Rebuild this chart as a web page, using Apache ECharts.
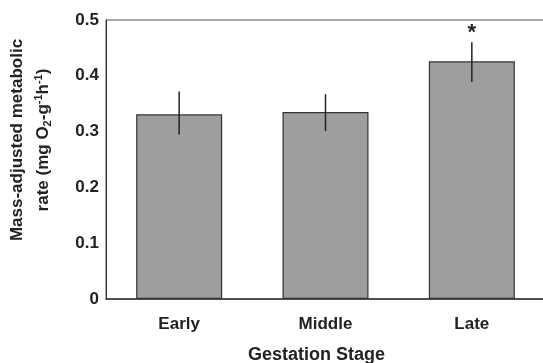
<!DOCTYPE html>
<html><head><meta charset="utf-8">
<script src="https://cdn.jsdelivr.net/npm/echarts@6/dist/echarts.min.js"></script>
<style>html,body{margin:0;padding:0;background:#fff}#c{width:543px;height:363px}</style>
</head><body><div id="c"></div>
<script>
const categories = ['Early', 'Middle', 'Late'];
const meanValues = [0.331, 0.335, 0.426];
const errLow = [0.295, 0.301, 0.389];
const errHigh = [0.372, 0.367, 0.460];
const markers = ['', '', '*'];
const yTicks = [0, 0.1, 0.2, 0.3, 0.4, 0.5];

const FONT = 'Liberation Sans, Arial, sans-serif';
const FS = 17;
const chart = echarts.init(document.getElementById('c'));
chart.setOption({
  animation: false,
  grid: { left: 106, right: -2, top: 20, bottom: 64, containLabel: false, outerBoundsMode: 'none',
    show: true, borderColor: '#555', borderWidth: 1, backgroundColor: 'transparent' },
  xAxis: {
    type: 'category', data: categories,
    axisLine: { lineStyle: { color: '#333', width: 1.5 } },
    axisTick: { show: false },
    axisLabel: { color: '#222', fontWeight: 'bold', fontSize: FS, fontFamily: FONT, margin: 17 },
    name: 'Gestation Stage', nameLocation: 'middle', nameGap: 47,
    nameTextStyle: { color: '#222', fontWeight: 'bold', fontSize: 18, fontFamily: FONT, padding: [0, 18, 0, 0] }
  },
  yAxis: {
    type: 'value', min: 0, max: 0.5, interval: 0.1,
    axisLine: { show: true, lineStyle: { color: '#333', width: 1 } },
    axisTick: { show: false },
    splitLine: { show: false },
    axisLabel: { color: '#222', fontWeight: 'bold', fontSize: FS, fontFamily: FONT, margin: 7,
      formatter: v => yTicks.includes(Math.round(v*10)/10) ? String(Math.round(v*10)/10) : '' }
  },
  graphic: [{
    type: 'text', x: 30, y: 140, rotation: Math.PI / 2,
    style: {
      text: '{b|Mass-adjusted metabolic}\n{b|rate (mg O}{sub|2}{b|-g}{sup|-1}{b|h}{sup|-1}{b|)}',
      align: 'center', verticalAlign: 'middle', fill: '#222',
      rich: {
        b: { fontSize: FS, fontWeight: 'bold', fontFamily: FONT, fill: '#222', lineHeight: 26 },
        sub: { fontSize: 11, fontWeight: 'bold', fontFamily: FONT, fill: '#222', padding: [9, 0, 0, 0], lineHeight: 26 },
        sup: { fontSize: 11, fontWeight: 'bold', fontFamily: FONT, fill: '#222', padding: [0, 0, 9, 0], lineHeight: 26 }
      }
    }
  }],
  series: [{
    type: 'bar', data: meanValues, barWidth: 86,
    itemStyle: { color: '#9d9ea0', borderColor: '#333', borderWidth: 1.2 }
  }, {
    type: 'custom',
    data: categories.map((c, i) => [i, errLow[i], errHigh[i], markers[i]]),
    renderItem: (params, api) => {
      const lo = api.coord([api.value(0), api.value(1)]);
      const hi = api.coord([api.value(0), api.value(2)]);
      const children = [{
        type: 'line', shape: { x1: lo[0], y1: lo[1], x2: hi[0], y2: hi[1] },
        style: { stroke: '#222', lineWidth: 1.5 }
      }];
      const m = markers[params.dataIndex];
      if (m) children.push({
        type: 'text', x: hi[0], y: hi[1] + 2,
        style: { text: m, fontSize: 22, fontWeight: 'bold', fontFamily: FONT, fill: '#222', align: 'center', verticalAlign: 'bottom' }
      });
      return { type: 'group', children };
    },
    z: 5
  }]
});
</script></body></html>
